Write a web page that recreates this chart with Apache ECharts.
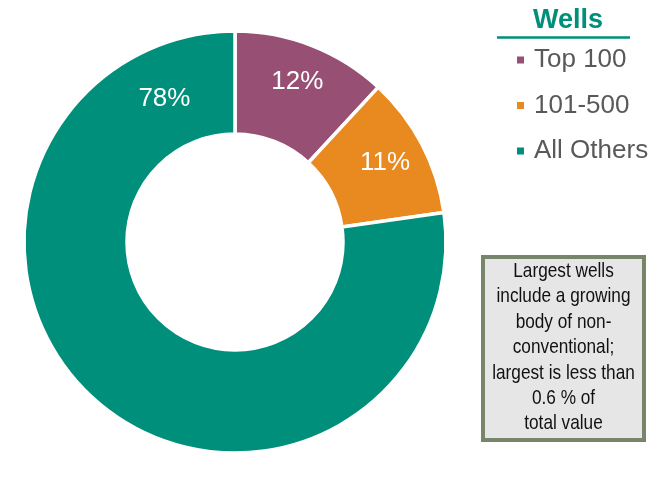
<!DOCTYPE html>
<html>
<head>
<meta charset="utf-8">
<script src="https://cdn.jsdelivr.net/npm/echarts@6/dist/echarts.min.js"></script>
<style>
  html, body { margin: 0; padding: 0; background: #ffffff; }
  #chart { width: 652px; height: 502px; }
</style>
</head>
<body>
<div id="chart"></div>
<script>
// Share of total value by well group (percent)
const categories = ['Top 100', '101-500', 'All Others'];
const shares = [12, 11, 78];
const colors = ['#974F73', '#E88A1F', '#008F7A'];
// Nudges for the in-ring percentage labels
const labelOffsets = [[3, -9], [6, -4], [36, -266]];

const legendTitle = 'Wells';
const noteLines = [
  'Largest wells',
  'include a growing',
  'body of non-',
  'conventional;',
  'largest is less than',
  '0.6 % of',
  'total value'
];

const chart = echarts.init(document.getElementById('chart'), null, { renderer: 'canvas' });

const data = categories.map((name, i) => ({
  name: name,
  value: shares[i],
  itemStyle: { color: colors[i] },
  label: { offset: labelOffsets[i] }
}));

chart.setOption({
  animation: false,
  backgroundColor: '#ffffff',
  title: {
    text: legendTitle,
    left: 563,
    top: 2,
    textAlign: 'center',
    textStyle: {
      fontFamily: 'Liberation Sans, Arial, sans-serif',
      fontSize: 27,
      fontWeight: 'bold',
      color: '#008F7A'
    }
  },
  legend: {
    orient: 'vertical',
    left: 510,
    top: 41,
    icon: 'rect',
    itemWidth: 9,
    itemHeight: 9,
    itemGap: 17.5,
    selectedMode: false,
    data: categories,
    textStyle: {
      fontFamily: 'Liberation Sans, Arial, sans-serif',
      fontSize: 26,
      lineHeight: 28,
      color: '#595959',
      padding: [0, 0, 0, 4]
    }
  },
  graphic: [
    {
      type: 'line',
      shape: { x1: 497, y1: 37.5, x2: 630, y2: 37.5 },
      style: { stroke: '#008F7A', lineWidth: 2.5 }
    },
    {
      type: 'rect',
      shape: { x: 483, y: 257, width: 161, height: 183 },
      style: { fill: '#E6E6E6', stroke: '#77866A', lineWidth: 4 }
    },
    {
      type: 'text',
      x: 563.5,
      y: 258.5,
      scaleX: 0.82,
      style: {
        text: noteLines.join('\n'),
        align: 'center',
        verticalAlign: 'top',
        fontFamily: 'Liberation Sans, Arial, sans-serif',
        fontSize: 21,
        lineHeight: 25.4,
        fill: '#111111'
      }
    }
  ],
  series: [
    {
      type: 'pie',
      center: [235, 242],
      radius: [108, 211],
      startAngle: 90,
      clockwise: true,
      avoidLabelOverlap: false,
      itemStyle: { borderColor: '#ffffff', borderWidth: 3.5 },
      label: {
        show: true,
        position: 'inside',
        formatter: '{c}%',
        fontFamily: 'Liberation Sans, Arial, sans-serif',
        fontSize: 26,
        color: '#ffffff'
      },
      labelLine: { show: false },
      emphasis: { disabled: true },
      data: data
    }
  ]
});
</script>
</body>
</html>
